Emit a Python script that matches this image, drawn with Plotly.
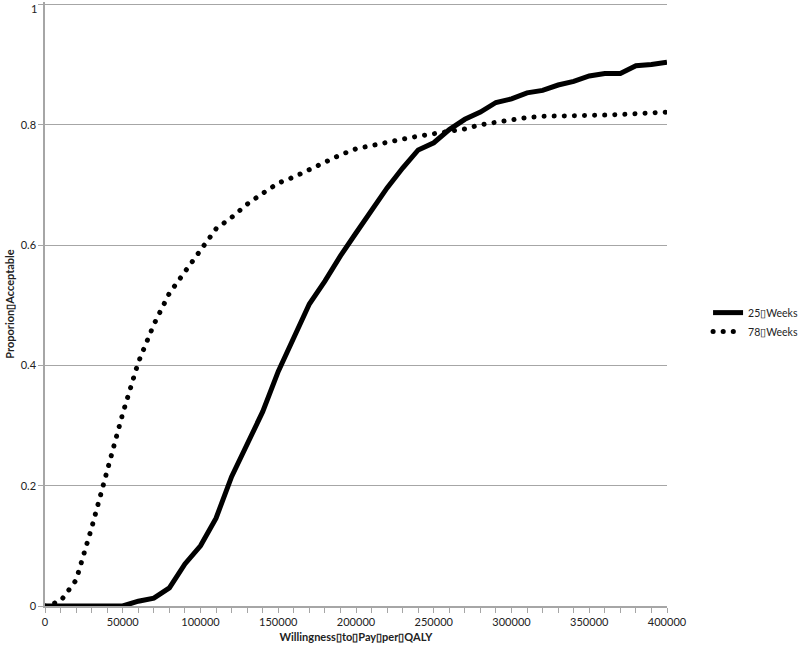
import plotly.graph_objects as go

# willingness-to-pay thresholds (x axis)
wtp = [i * 10000 for i in range(41)]

weeks_25 = [0, 0, 0, 0, 0, 0, 0.008, 0.013, 0.03, 0.07, 0.10,
            0.146, 0.215, 0.267, 0.323, 0.39, 0.447, 0.502, 0.54, 0.582, 0.62,
            0.658, 0.695, 0.728, 0.758, 0.77, 0.792, 0.809, 0.821, 0.837, 0.843,
            0.853, 0.857, 0.866, 0.872, 0.881, 0.885, 0.885, 0.898, 0.9, 0.904]

weeks_78 = [0, 0.008, 0.043, 0.13, 0.225, 0.32, 0.405, 0.468, 0.52, 0.556, 0.589,
            0.627, 0.646, 0.668, 0.686, 0.703, 0.713, 0.725, 0.739, 0.75, 0.76,
            0.766, 0.77, 0.776, 0.781, 0.785, 0.789, 0.793, 0.8, 0.804, 0.809,
            0.812, 0.814, 0.814, 0.814, 0.815, 0.816, 0.817, 0.818, 0.82, 0.821]

y_ticks = [0, 0.2, 0.4, 0.6, 0.8, 1]
y_labels = ["0", "0.2", "0.4", "0.6", "0.8", "1"]

BOX = "\u25af"
series_names = ["25" + BOX + "Weeks", "78" + BOX + "Weeks"]
x_title = BOX.join(["Willingness", "to", "Pay", "per", "QALY"])
y_title = "Proporion" + BOX + "Acceptable"

FONT = "Lato, 'Open Sans', sans-serif"
GRID = "#a6a6a6"

fig = go.Figure()
fig.add_trace(go.Scatter(x=wtp, y=weeks_25, mode="lines", name=series_names[0],
                         line=dict(color="black", width=5)))
fig.add_trace(go.Scatter(x=wtp, y=weeks_78, mode="lines", name=series_names[1],
                         line=dict(color="black", width=5, dash="dot")))

fig.update_layout(
    width=800, height=651,
    margin=dict(l=45, r=133, t=2, b=45, autoexpand=False),
    plot_bgcolor="white", paper_bgcolor="white",
    font=dict(family=FONT, size=11, color="#222"),
    legend=dict(x=1.066, y=0.47, xanchor="left", yanchor="middle",
                font=dict(size=10.5), bgcolor="rgba(0,0,0,0)", tracegroupgap=0),
)
fig.update_xaxes(
    range=[0, 400000], dtick=50000, tickformat="d", automargin=False,
    showgrid=False, showline=True, linecolor=GRID, linewidth=1.5,
    ticks="outside", ticklen=5, tickcolor=GRID,
    minor=dict(dtick=10000, ticks="outside", ticklen=5, tickcolor=GRID),
    zeroline=False,
    title=dict(text="<b>" + x_title + "</b>", font=dict(size=11), standoff=6),
)
# top of range a hair above 1 so the gridline at 1 is not clipped
fig.update_yaxes(
    range=[0, 1.004], tickmode="array", tickvals=y_ticks, ticktext=y_labels,
    automargin=False,
    showgrid=True, gridcolor=GRID, gridwidth=1,
    showline=True, linecolor=GRID, linewidth=1.5,
    ticks="outside", ticklen=5, tickcolor=GRID,
    zeroline=False,
    title=dict(text="<b>" + y_title + "</b>", font=dict(size=11), standoff=4),
)

# plotly drops the top tick label this close to the edge, so write it by hand
fig.add_annotation(text=y_labels[-1], xref="paper", x=0, yref="y", y=y_ticks[-1],
                   xanchor="right", yanchor="top", xshift=-6, yshift=4,
                   showarrow=False, font=dict(size=11, color="#222"))

# no page margin, and round dots for the dotted series (plot + legend)
post_js = """
document.body.style.margin = '0';
var gd = document.getElementById('{plot_id}');
gd.querySelectorAll('path.js-line, .legendlines path').forEach(function (p) {
  var d = p.style.strokeDasharray;
  if (d && d !== 'none') {
    p.style.strokeDasharray = '0.1px, 10px';
    p.style.strokeLinecap = 'round';
  }
});
"""

fig.write_html("out.html", post_script=post_js, config={"displayModeBar": False})
